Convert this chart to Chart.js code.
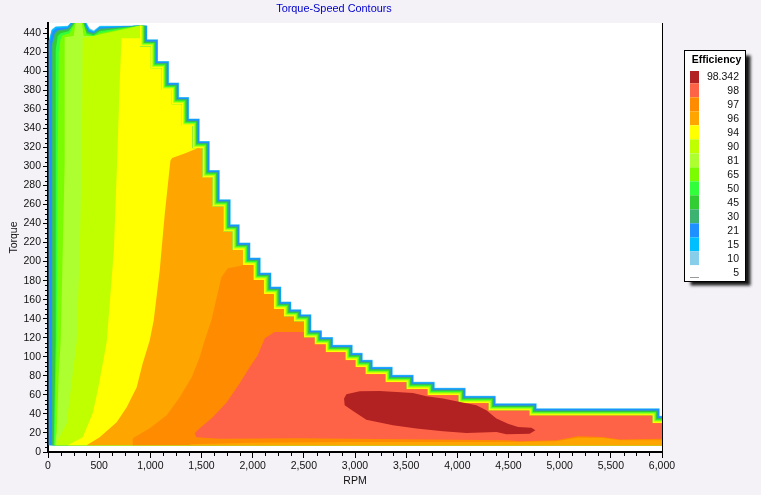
<!DOCTYPE html>
<html><head><meta charset="utf-8">
<style>html,body{margin:0;padding:0;background:#F5F2F7;overflow:hidden}canvas{display:block}</style>
<script src="https://cdn.jsdelivr.net/npm/chart.js@4"></script>
</head><body><canvas id="c" width="761" height="495"></canvas>
<script>
const chartTitle = "Torque-Speed Contours";
const legendTitle = "Efficiency";
const legendLabels = ["98.342","98","97","96","94","90","81","65","50","45","30","21","15","10","5"];
const legendColors = ["#B22222","#FF6347","#FF8C00","#FFA500","#FFFF00","#BFFF00","#ADFF2F","#7CFC00","#32FF3C","#32CD32","#3CB371","#1E90FF","#00BFFF","#87CEEB","#FFFFFF"];

// staircase limit of the operating envelope
const stairRpm = [898,898,1002,1002,1109,1109,1207,1207,1305,1305,1409,1409,1507,1507,1605,1605,1712,1712,1800,1800,1905,1905,2005,2005,2110,2110,2207,2207,2305,2305,2403,2403,2501,2501,2604,2604,2712,2712,2904,2904,3002,3002,3100,3100,3295,3295,3500,3500,3706,3706,4008,4008,4302,4302,4702,4702,5904,5904,6100];
const stairTorque = [447.7,425.6,425.6,402.8,402.8,380.1,380.1,365,365,342.3,342.3,318.8,318.8,288.3,288.3,257.6,257.6,231.3,231.3,212.1,212.1,196.3,196.3,180.6,180.6,165.9,165.9,150.1,150.1,142,142,136.8,136.8,120,120,112.9,112.9,104.7,104.7,96.3,96.3,89,89,81.6,81.6,73.2,73.2,65.9,65.9,59.6,59.6,51.2,51.2,43.3,43.3,38,38,30.1,30.1];

const l10Rpm = [7,7,36,75,193,232,368,407,447,505];
const l10Tq  = [7,432,444,447,447.7,452,452,445,443,447.7];
const l15Rpm = [9,9,36,75,193,232,368,407,447,505];
const l15Tq  = [7,432,443,446.6,447.2,452,452,444,441.9,447.2];
const l21Rpm = [17,17,46,85,193,241,359,398,447,505];
const l21Tq  = [7,430,442,445,446,452,452,443,441,446];
const l30Rpm = [36,36,65,95,193,251,349,388,447,505];
const l30Tq  = [7,427,439.8,443,444.5,452,452,442,439.8,444.5];
const l45Rpm = [46,46,75,105,202,261,349,388,447,505];
const l45Tq  = [7,425,438.7,442,443,452,452,441,438.7,443];
const l50Rpm = [56,75,75,95,124,202,271,339,378,447,505];
const l50Tq  = [7,116,422,436.6,439.8,441.9,452,452,439.8,437.7,441.9];
const l65Rpm = [65,85,95,105,124,144,212,271,339,378,447,505];
const l65Tq  = [7,116,300,420,434.5,437.7,439.8,452,452,438,436.6,439.8];
const l81Rpm = [70,85,105,124,144,163,163,251,271,329,349,505];
const l81Tq  = [7,22,82,116,211,304,435.6,437,452,452,437,437];
const l90Rpm = [80,95,183,222,261,281,310,329,339];
const l90Tq  = [7,12.3,30,64.8,99,116,211,304,434.5];
const l94Rpm = [193,339,437,486,535,574,643,673,702,719,898];
const l94Tq  = [7,15.4,40.6,64.8,93,116,211,298,392,434.5,434.5];
const l96Rpm = [378,505,671,769,867,925,994,1033,1092,1140,1196,1213,1342,1466];
const l96Tq  = [7,15.4,31.2,47,68,93,117,138,191,249,306,308.7,313.8,319.3];
const l97Rpm = [828,828,994,1160,1287,1404,1482,1531,1597,1658,1694,1756,1873];
const l97Tq  = [7,14.4,24.9,38.5,57.5,78.5,99.5,117.3,138.3,166.7,183.5,193,195.4];
const l98Rpm = [1450,1433,1482,1609,1746,1873,1970,2049,2118,2215,2313,2499];
const l98Tq  = [15.4,19.6,24.9,36.4,52.2,72.2,89,101.6,119.4,126,126,126];
const l98LowRpm = [6100,5588,5421,5176,4971,4610,4482,2459,1678];
const l98LowTq  = [14.1,13,15.8,16.5,12.3,11.2,12.3,14.4,13.9];
const stripRpm = [1385,1971,2948,4610,4971,5176,5421,5588,6100,6100,1385];
const stripTq  = [8.1,9.7,10.5,10.5,11.2,14.9,14.7,12.3,12.3,7,7];
const peakRpm = [2893,2916,3046,3241,3567,3698,3860,3991,4186,4284,4382,4495,4593,4724,4763,4707,4480,4382,4089,3860,3600,3371,3111,2981,2899];
const peakTq  = [56.1,60.6,63.8,64.1,62,58.5,56.1,53.3,49,43.8,35.1,29.8,26.3,25.6,22.8,19.3,18.6,21,20,21.7,24.6,28,34,43.1,49.1];
const floorTorque = 7;

const pts = (xs, ys) => xs.map((x, i) => ({x, y: ys[i]}));
const stair = from => pts(stairRpm.slice(from), stairTorque.slice(from));
const closeLow = [{x: 6100, y: floorTorque}];
const poly = (xs, ys, from) => pts(xs, ys).concat(stair(from), closeLow);
const fillDs = (data, color) => ({data, showLine: true, fill: 'shape', backgroundColor: color, borderWidth: 0, borderColor: 'transparent', pointRadius: 0, clip: 0, tension: 0});
const bandDs = (color, width) => ({data: stair(0), showLine: true, fill: false, borderColor: color, borderWidth: width, borderJoinStyle: 'miter', borderCapStyle: 'butt', pointRadius: 0, clip: 0, tension: 0});

const bottomUp = [
  bandDs('#87CEEB', 15), bandDs('#00BFFF', 14.2), bandDs('#1E90FF', 13.6), bandDs('#3CB371', 10.8),
  bandDs('#32CD32', 9.2), bandDs('#32FF3C', 7.8), bandDs('#7CFC00', 6.4), bandDs('#ADFF2F', 5),
  bandDs('#BFFF00', 4), bandDs('#FFFF00', 3),
  fillDs(poly(l10Rpm, l10Tq, 0), '#87CEEB'),
  fillDs(poly(l15Rpm, l15Tq, 0), '#00BFFF'),
  fillDs(poly(l21Rpm, l21Tq, 0), '#1E90FF'),
  fillDs(poly(l30Rpm, l30Tq, 0), '#3CB371'),
  fillDs(poly(l45Rpm, l45Tq, 0), '#32CD32'),
  fillDs(poly(l50Rpm, l50Tq, 0), '#32FF3C'),
  fillDs(poly(l65Rpm, l65Tq, 0), '#7CFC00'),
  fillDs(poly(l81Rpm, l81Tq, 0), '#ADFF2F'),
  fillDs(poly(l90Rpm, l90Tq, 0), '#BFFF00'),
  fillDs(poly(l94Rpm, l94Tq, 1), '#FFFF00'),
  fillDs(poly(l96Rpm, l96Tq, 12), '#FFA500'),
  fillDs(poly(l97Rpm, l97Tq, 21), '#FF8C00'),
  fillDs(pts(l98Rpm, l98Tq).concat(stair(33), pts(l98LowRpm, l98LowTq)), '#FF6347'),
  fillDs(pts(stripRpm, stripTq), '#FFA500'),
  fillDs(pts(peakRpm, peakTq), '#B22222')
];

const FONT = '"Liberation Sans", Arial, sans-serif';
const extras = {
  id: 'extras',
  beforeDraw(ch) {
    const {ctx, chartArea: a} = ch;
    ctx.save();
    ctx.fillStyle = '#FFFFFF';
    ctx.fillRect(a.left, a.top, a.right - a.left, a.bottom - a.top);
    ctx.restore();
  },
  afterDraw(ch) {
    const {ctx, chartArea: a, scales: {x, y}} = ch;
    ctx.save();
    // right frame line
    ctx.fillStyle = '#000';
    ctx.fillRect(a.right, a.top, 1, a.bottom - a.top);
    // minor ticks
    ctx.strokeStyle = '#000'; ctx.lineWidth = 1;
    ctx.beginPath();
    for (let v = 125; v < 6000; v += 125) {
      if (v % 500 === 0) continue;
      const p = Math.round(x.getPixelForValue(v)) + 0.5;
      ctx.moveTo(p, a.bottom); ctx.lineTo(p, a.bottom + 4);
    }
    for (let v = 5; v < 450; v += 5) {
      if (v % 20 === 0) continue;
      const p = Math.round(y.getPixelForValue(v)) + 0.5;
      ctx.moveTo(a.left, p); ctx.lineTo(a.left - 3, p);
    }
    ctx.stroke();
    // title
    ctx.fillStyle = '#0000CD';
    ctx.font = '10.9px ' + FONT;
    ctx.textAlign = 'center'; ctx.textBaseline = 'middle';
    ctx.fillText(chartTitle, 334, 9);
    // legend box
    const bx = 684.5, by = 50.5, bw = 61, bh = 231;
    ctx.save();
    ctx.shadowColor = 'rgba(0,0,0,0.9)'; ctx.shadowBlur = 3; ctx.shadowOffsetX = 5; ctx.shadowOffsetY = 4;
    ctx.fillStyle = '#FFF'; ctx.fillRect(bx, by, bw, bh);
    ctx.restore();
    ctx.strokeStyle = '#000'; ctx.lineWidth = 1; ctx.strokeRect(bx, by, bw, bh);
    ctx.fillStyle = '#000'; ctx.font = 'bold 10.5px ' + FONT;
    ctx.textAlign = 'center';
    ctx.fillText(legendTitle, 716.5, 60.5);
    ctx.font = '10.5px ' + FONT; ctx.textAlign = 'right';
    legendLabels.forEach((t, i) => {
      const top = i === 0 ? 71 : 69.3 + 14 * i;
      const bot = 83.3 + 14 * i;
      ctx.fillStyle = legendColors[i];
      ctx.fillRect(690, top, 9, bot - top);
      ctx.fillStyle = '#111';
      ctx.fillText(t, 739, 76.8 + 14 * i);
    });
    ctx.fillStyle = '#999';
    ctx.fillRect(690, 277, 9, 1);
    ctx.restore();
  }
};

new Chart(document.getElementById('c'), {
  type: 'scatter',
  data: {datasets: bottomUp.slice().reverse()},
  plugins: [extras],
  options: {
    responsive: false, animation: false, devicePixelRatio: 1,
    layout: {padding: {left: 0, top: 23, right: 99, bottom: 0}},
    plugins: {legend: {display: false}, tooltip: {enabled: false}, title: {display: false}},
    scales: {
      x: {
        type: 'linear', min: 0, max: 6000,
        afterFit(s) { s.height = 43; },
        ticks: {stepSize: 500, autoSkip: false, maxRotation: 0, color: '#111', padding: 2, font: {family: FONT, size: 10.5},
          callback: v => v.toLocaleString('en-US')},
        grid: {drawOnChartArea: false, tickLength: 6, tickColor: '#000', tickWidth: 1},
        border: {color: '#000', width: 2},
        title: {display: true, text: 'RPM', color: '#111', font: {family: FONT, size: 10.5}, padding: {top: 8, bottom: 8}}
      },
      y: {
        type: 'linear', min: 0, max: 450.6,
        afterFit(s) { s.width = 48; },
        ticks: {stepSize: 20, includeBounds: false, autoSkip: false, color: '#111', padding: 2, font: {family: FONT, size: 10.5}},
        grid: {drawOnChartArea: false, tickLength: 5, tickColor: '#000', tickWidth: 1},
        border: {color: '#000', width: 2},
        title: {display: true, text: 'Torque', color: '#111', font: {family: FONT, size: 10.5}, padding: {top: 8, bottom: 8}}
      }
    }
  }
});
</script></body></html>
